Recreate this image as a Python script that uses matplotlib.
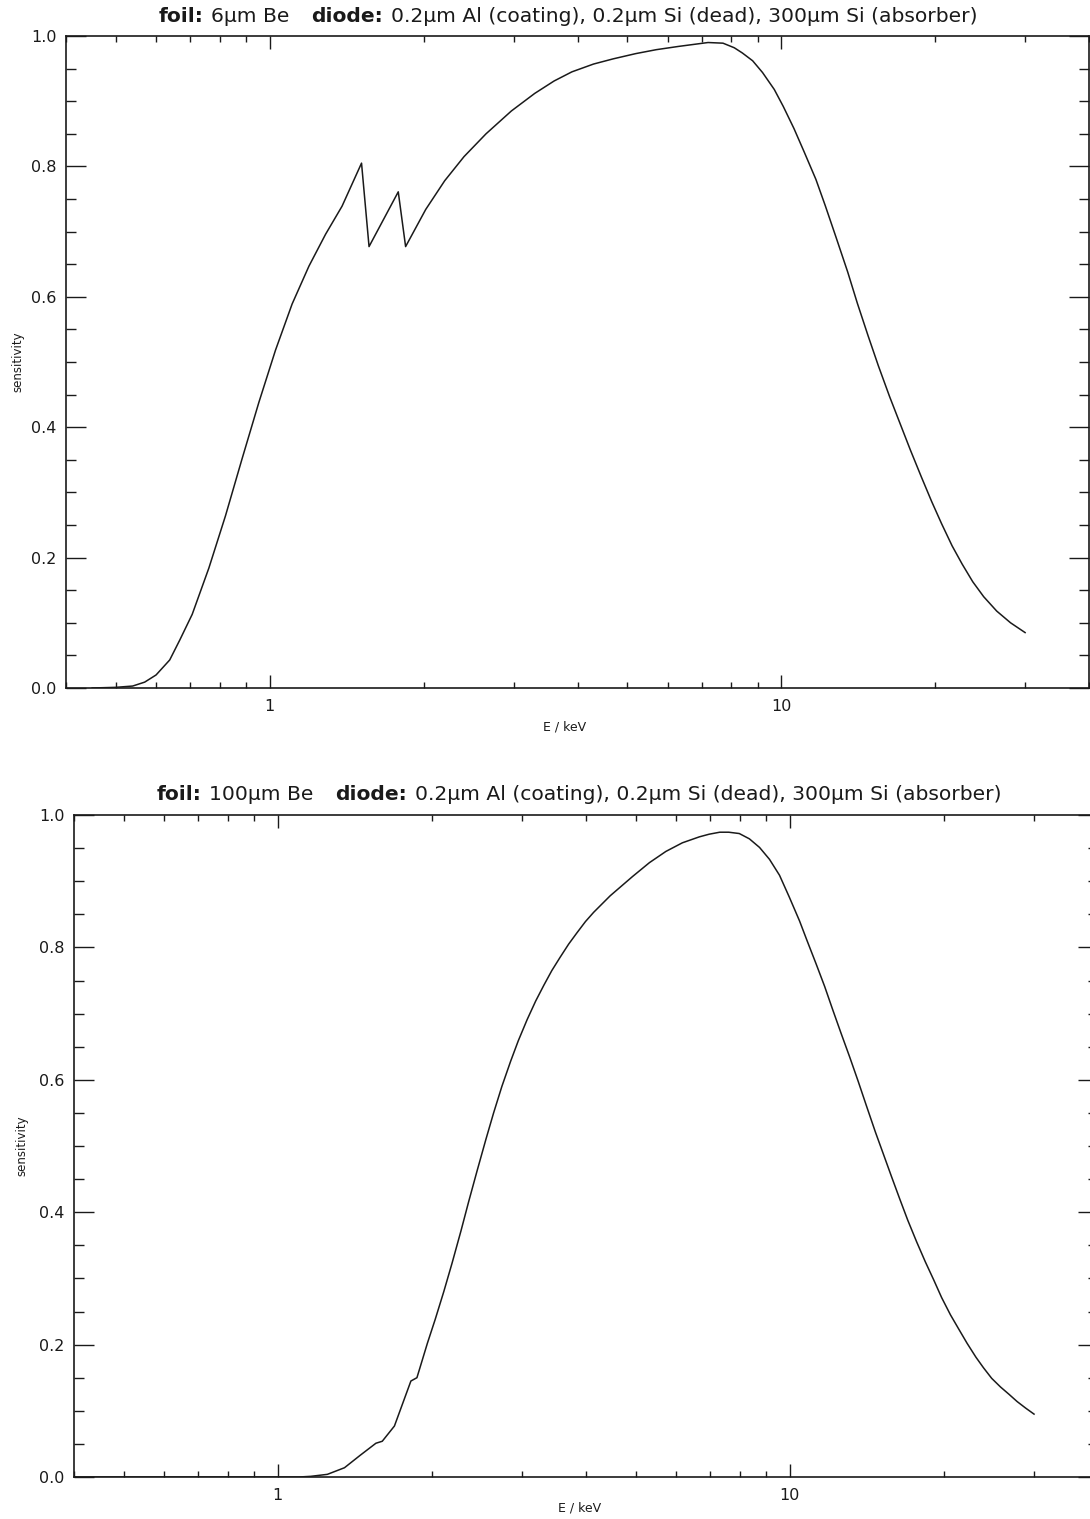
import matplotlib
matplotlib.use("Agg")
import matplotlib.pyplot as plt
import matplotlib.ticker as mticker
from matplotlib.offsetbox import TextArea, HPacker, AnnotationBbox

plt.rcParams['font.family'] = ['DejaVu Sans']

# foil: 6 um Be  (upper panel)
e_6um = [0.45, 0.50, 0.54, 0.57, 0.60, 0.638, 0.668, 0.706, 0.761, 0.820,
         0.884, 0.953, 1.027, 1.107, 1.194, 1.287, 1.386, 1.513, 1.565, 1.785,
         1.845, 2.02, 2.2, 2.4, 2.65, 2.97, 3.3, 3.6, 3.9, 4.3,
         4.7, 5.2, 5.7, 6.3, 7.2, 7.7, 8.1, 8.4, 8.8, 9.2,
         9.7, 10.1, 10.6, 11.1, 11.7, 12.2, 12.8, 13.5, 14.1, 14.8,
         15.5, 16.3, 17.1, 17.9, 18.8, 19.7, 20.6, 21.6, 22.6, 23.7,
         24.9, 26.4, 28.1, 30.0]
s_6um = [0.0, 0.001, 0.003, 0.009, 0.020, 0.043, 0.074, 0.113, 0.184, 0.264,
         0.352, 0.438, 0.518, 0.589, 0.647, 0.696, 0.739, 0.805, 0.677, 0.761,
         0.677, 0.734, 0.778, 0.815, 0.850, 0.885, 0.912, 0.931, 0.945, 0.957,
         0.965, 0.973, 0.979, 0.984, 0.990, 0.989, 0.982, 0.974, 0.962, 0.944,
         0.918, 0.892, 0.858, 0.822, 0.780, 0.740, 0.692, 0.638, 0.590, 0.540,
         0.494, 0.447, 0.405, 0.365, 0.324, 0.286, 0.252, 0.218, 0.190, 0.163,
         0.140, 0.118, 0.100, 0.085]

# foil: 100 um Be  (lower panel)
e_100um = [0.4, 1.1, 1.16, 1.25, 1.35, 1.45, 1.555, 1.60, 1.69, 1.82,
           1.87, 1.96, 2.03, 2.11, 2.19, 2.28, 2.36, 2.45, 2.55, 2.64,
           2.74, 2.85, 2.95, 3.07, 3.19, 3.31, 3.43, 3.56, 3.70, 3.84,
           3.99, 4.14, 4.46, 4.93, 5.32, 5.73, 6.17, 6.66, 6.96, 7.3,
           7.6, 7.97, 8.34, 8.73, 9.13, 9.55, 9.98, 10.45, 10.8, 11.26,
           11.7, 12.13, 12.6, 13.1, 13.6, 14.1, 14.7, 15.2, 15.8, 16.4,
           17.0, 17.7, 18.4, 19.1, 19.8, 20.6, 21.4, 22.2, 23.1, 23.9,
           24.8, 25.8, 26.8, 27.8, 28.9, 30.0]
s_100um = [0.0, 0.0, 0.001, 0.004, 0.014, 0.033, 0.051, 0.054, 0.077, 0.145,
           0.150, 0.202, 0.238, 0.280, 0.323, 0.372, 0.416, 0.462, 0.510, 0.550,
           0.590, 0.628, 0.659, 0.691, 0.719, 0.743, 0.765, 0.785, 0.805, 0.822,
           0.839, 0.853, 0.878, 0.907, 0.928, 0.945, 0.958, 0.967, 0.971, 0.974,
           0.974, 0.972, 0.964, 0.951, 0.933, 0.909, 0.876, 0.840, 0.811, 0.775,
           0.741, 0.706, 0.670, 0.634, 0.598, 0.562, 0.521, 0.490, 0.454, 0.420,
           0.388, 0.355, 0.325, 0.298, 0.271, 0.245, 0.223, 0.202, 0.181, 0.165,
           0.149, 0.136, 0.125, 0.114, 0.104, 0.095]

foils = ["6\u03bcm Be", "100\u03bcm Be"]
diode = "0.2\u03bcm Al (coating), 0.2\u03bcm Si (dead), 300\u03bcm Si (absorber)"

INK = '#1a1a1a'
W, H = 1090, 1519

fig = plt.figure(figsize=(W / 100, H / 100), dpi=100)

# axes boxes in pixels: left, top, right, bottom
boxes = [(66, 36, 1089, 688), (74, 815, 1098, 1477)]
title_pos = [(568, 16), (579, 795)]
xlabel_pos = [(565, 727), (580, 1508)]
ylabel_pos = [(18, 362), (22, 1146)]


def style_axes(ax):
    ax.set_xscale('log')
    ax.set_xlim(0.4, 40)
    ax.set_ylim(0, 1.0)
    ax.xaxis.set_major_locator(mticker.FixedLocator([1, 10]))
    ax.xaxis.set_minor_locator(mticker.LogLocator(base=10, subs=(2, 3, 4, 5, 6, 7, 8, 9), numticks=20))
    ax.xaxis.set_major_formatter(mticker.FuncFormatter(lambda v, _: f"{v:g}"))
    ax.xaxis.set_minor_formatter(mticker.NullFormatter())
    ax.yaxis.set_major_locator(mticker.MultipleLocator(0.2))
    ax.yaxis.set_minor_locator(mticker.MultipleLocator(0.05))
    ax.yaxis.set_major_formatter(mticker.FormatStrFormatter('%.1f'))
    ax.tick_params(which='both', direction='in', top=True, right=True, colors=INK, labelcolor=INK)
    ax.tick_params(axis='x', which='major', length=9.5, width=1.0, labelsize=11.5, pad=8)
    ax.tick_params(axis='x', which='minor', length=4.5, width=1.0)
    ax.tick_params(axis='y', which='major', length=14.5, width=1.0, labelsize=11.5, pad=7)
    ax.tick_params(axis='y', which='minor', length=7.2, width=1.0)
    for sp in ax.spines.values():
        sp.set_color(INK)
        sp.set_linewidth(1.2)


def title_box(foil):
    # bold "foil:" / "diode:" with normal text after them
    fs = 14.6
    parts = [
        TextArea("foil:", textprops=dict(fontsize=fs, fontweight='bold', color=INK)),
        TextArea(foil + "  ", textprops=dict(fontsize=fs, color=INK)),
        TextArea("diode:", textprops=dict(fontsize=fs, fontweight='bold', color=INK)),
        TextArea(diode, textprops=dict(fontsize=fs, color=INK)),
    ]
    return HPacker(children=parts, align='baseline', pad=0, sep=6)


data = [(e_6um, s_6um), (e_100um, s_100um)]
for i, (l, t, r, b) in enumerate(boxes):
    ax = fig.add_axes([l / W, 1 - b / H, (r - l) / W, (b - t) / H])
    style_axes(ax)
    e, s = data[i]
    ax.plot(e, s, color=INK, linewidth=1.1)

    tx, ty = title_pos[i]
    ab = AnnotationBbox(title_box(foils[i]), (tx / W, 1 - ty / H), xycoords='figure fraction',
                        frameon=False, box_alignment=(0.5, 0.5), pad=0)
    fig.add_artist(ab)
    xx, xy = xlabel_pos[i]
    fig.text(xx / W, 1 - xy / H, "E / keV", ha='center', va='center', fontsize=9, color=INK)
    yx, yy = ylabel_pos[i]
    fig.text(yx / W, 1 - yy / H, "sensitivity", ha='center', va='center', rotation=90, fontsize=8.5, color=INK)

fig.savefig("out.png", dpi=100, facecolor='white')
